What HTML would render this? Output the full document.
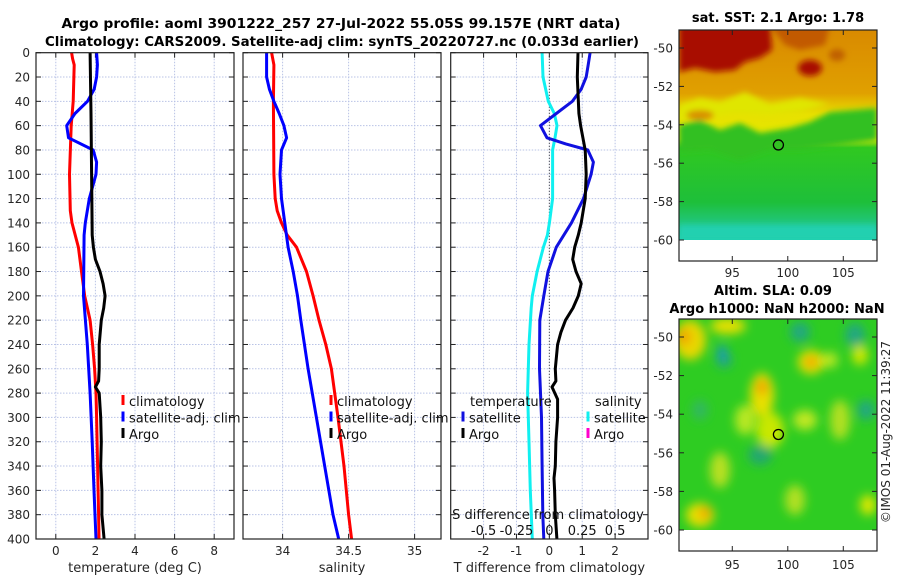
<!DOCTYPE html>
<html><head><meta charset="utf-8">
<style>
html,body{margin:0;padding:0;background:#fff;}
svg{display:block;font-family:"DejaVu Sans","Liberation Sans",sans-serif;}
</style></head>
<body>
<svg id="fig" width="900" height="580" viewBox="0 0 900 580" xmlns="http://www.w3.org/2000/svg">
<defs>
<filter id="blur3" x="-20%" y="-20%" width="140%" height="140%"><feGaussianBlur stdDeviation="3"/></filter>
<filter id="blur5" x="-30%" y="-30%" width="160%" height="160%"><feGaussianBlur stdDeviation="5"/></filter>
<clipPath id="clipTop"><rect x="679" y="30" width="198" height="210"/></clipPath>
<clipPath id="clipBot"><rect x="679" y="319" width="198" height="211"/></clipPath>
<linearGradient id="sstGrad" x1="0" y1="0" x2="0" y2="1">
<stop offset="0" stop-color="#d98a00"/><stop offset="0.3" stop-color="#e0a000"/><stop offset="0.4" stop-color="#e8e000"/>
<stop offset="0.52" stop-color="#e4ea00"/><stop offset="0.56" stop-color="#30c820"/><stop offset="0.82" stop-color="#1ebf3a"/>
<stop offset="0.95" stop-color="#22c890"/><stop offset="1" stop-color="#20d0b0"/>
</linearGradient>
</defs>
<g font-weight="bold" font-size="13" fill="#000" text-anchor="middle">
<text x="341" y="28" textLength="559" lengthAdjust="spacingAndGlyphs">Argo profile: aoml 3901222_257 27-Jul-2022 55.05S 99.157E (NRT data)</text>
<text x="342" y="46" textLength="594" lengthAdjust="spacingAndGlyphs">Climatology: CARS2009. Satellite-adj clim: synTS_20220727.nc (0.033d earlier)</text>
</g>
<g id="plots"></g>
<g id="maps"></g>
</svg>
<script>
// ---- Data ----
const depthTicks = [0,20,40,60,80,100,120,140,160,180,200,220,240,260,280,300,320,340,360,380,400];
const tempTicks = [0,2,4,6,8];
const salTicks = [34,34.5,35];
const salTickLabels = ["34","34.5","35"];
const diffTTicks = [-2,-1,0,1,2];
const diffSTickLabels = ["-0.5","-0.25","0","0.25","0.5"];
const diffSTicks = [-0.5,-0.25,0,0.25,0.5];

const climTDepth = [0,5,10,40,60,100,130,140,160,180,200,220,240,260,280,300,340,380,400];
const climT = [0.80,0.85,0.93,0.88,0.78,0.69,0.73,0.82,1.14,1.30,1.46,1.73,1.86,1.96,2.03,2.06,2.11,2.16,2.18];
const satTDepth = [0,10,20,30,40,50,60,70,80,90,100,120,140,150,200,240,280,320,360,400];
const satT = [2.06,2.10,2.06,1.94,1.60,0.97,0.55,0.64,1.89,2.06,2.03,1.69,1.49,1.43,1.40,1.59,1.73,1.84,1.93,2.03];
const argoTDepth = [0,50,100,150,160,170,180,190,200,210,220,240,260,270,275,280,300,320,340,360,380,400];
const argoT = [1.73,1.78,1.81,1.84,1.90,2.00,2.23,2.39,2.49,2.42,2.30,2.19,2.19,2.16,2.00,2.19,2.27,2.30,2.27,2.33,2.33,2.44];

const climSDepth = [0,10,40,100,120,130,140,150,160,180,200,220,240,260,280,300,340,380,400];
const climS = [33.917,33.934,33.930,33.934,33.944,33.959,33.992,34.035,34.105,34.181,34.231,34.276,34.327,34.370,34.395,34.420,34.465,34.500,34.523];
const satSDepth = [0,20,30,40,50,60,70,80,100,120,140,160,180,200,220,260,300,340,380,400];
const satS = [33.879,33.879,33.900,33.934,33.974,34.010,34.030,33.992,33.980,33.992,34.017,34.042,34.080,34.113,34.138,34.193,34.256,34.319,34.382,34.425];

const dTSatDepth = [0,10,20,30,40,50,60,70,75,80,90,100,120,140,160,180,200,220,260,300,340,380,400];
const dTSat = [1.24,1.18,1.12,0.97,0.70,0.21,-0.27,-0.07,0.50,1.17,1.34,1.27,1.04,0.67,0.21,-0.04,-0.17,-0.29,-0.30,-0.24,-0.22,-0.20,-0.17];
const dTArgoDepth = [0,20,50,60,80,100,120,140,150,160,170,180,190,200,210,220,230,240,260,270,275,285,300,320,340,350,360,380,400];
const dTArgo = [0.87,0.85,0.90,0.95,1.09,1.12,1.09,0.97,0.88,0.77,0.71,0.81,0.97,0.88,0.72,0.49,0.35,0.25,0.18,0.20,0.08,0.25,0.25,0.20,0.18,0.14,0.16,0.18,0.23];
const dSSatDepth = [0,20,40,50,60,70,80,100,120,140,150,160,180,200,210,240,280,320,360,400];
const dSSat = [-0.055,-0.048,-0.008,0.038,0.058,0.043,0.025,0.025,0.025,0,-0.015,-0.045,-0.093,-0.13,-0.138,-0.155,-0.165,-0.155,-0.145,-0.13];

const latTicks = [-50,-52,-54,-56,-58,-60];
const lonTicks = [95,100,105];
const argoLon = 99.157, argoLat = -55.05;

// ---- Helpers ----
const NS = "http://www.w3.org/2000/svg";
function mk(tag, attrs, parent){
  const e = document.createElementNS(NS, tag);
  for (const k in attrs) e.setAttribute(k, attrs[k]);
  parent.appendChild(e); return e;
}
const plots = document.getElementById('plots');
const Y0 = 52.7, Y1 = 539;
function yDepth(d){ return Y0 + (Y1 - Y0) * d / 400; }

function panel(name, x0, x1, xmin, xmax, xTicks, xLabels, xTitle, showY){
  const g = mk('g', {}, plots);
  
  
  const sx = v => x0 + (x1 - x0) * (v - xmin) / (xmax - xmin);
  const grid = mk('g', {stroke:'#b9c3e6', 'stroke-width':1, 'stroke-dasharray':'1.5,1.5'}, g);
  
  
  depthTicks.forEach(d => { if (d>0 && d<400) mk('line', {x1:x0, x2:x1, y1:yDepth(d), y2:yDepth(d)}, grid); });
  xTicks.forEach(v => mk('line', {x1:sx(v), x2:sx(v), y1:Y0, y2:Y1}, grid));
  const ax = mk('g', {stroke:'#222', 'stroke-width':1}, g);
  depthTicks.forEach(d => {
    mk('line', {x1:x0, x2:x0+5, y1:yDepth(d), y2:yDepth(d)}, ax);
    mk('line', {x1:x1, x2:x1-5, y1:yDepth(d), y2:yDepth(d)}, ax);
  });
  xTicks.forEach(v => {
    mk('line', {x1:sx(v), x2:sx(v), y1:Y1, y2:Y1-5}, ax);
    mk('line', {x1:sx(v), x2:sx(v), y1:Y0, y2:Y0+5}, ax);
  });
  const lab = mk('g', {'font-size':12, fill:'#262626', 'text-anchor':'middle'}, g);
  
  
  xTicks.forEach((v,i) => { const t = mk('text', {x:sx(v), y:555}, lab); t.textContent = xLabels[i]; });
  const tt = mk('text', {x:(x0+x1)/2, y:572, 'font-size':13, fill:'#262626', 'text-anchor':'middle'}, g);
  
  
  tt.textContent = xTitle;
  if (showY){
    const yl = mk('g', {'font-size':12, fill:'#262626', 'text-anchor':'end'}, g);
    
    
    depthTicks.forEach(d => { const t = mk('text', {x:30, y:yDepth(d)+4.5}, yl); t.textContent = d; });
  }
  return {g, sx};
}
function series(p, name, vals, depths, color, w, scale){
  const pts = vals.map((v,i) => p.sx(v*(scale||1)).toFixed(1) + ',' + yDepth(depths[i]).toFixed(1)).join(' ');
  const l = mk('polyline', {points:pts, fill:'none', stroke:color, 'stroke-width':w, 'stroke-linejoin':'round'}, p.g);
  
  
}
function frame(p, x0, x1){
  const r = mk('rect', {x:x0, y:Y0, width:x1-x0, height:Y1-Y0, fill:'none', stroke:'#222', 'stroke-width':1.2}, p.g);
  
  
}
function legend(g, name, x, y, items){
  const lg = mk('g', {'font-size':13, fill:'#111'}, g);
  
  
  items.forEach((it,i) => {
    const yy = y + i*16.5;
    if (it.c) mk('line', {x1:x, x2:x, y1:yy-11, y2:yy-1, stroke:it.c, 'stroke-width':3}, lg);
    const t = mk('text', {x:x + (it.c?6:0), y:yy}, lg);
    
    
    t.textContent = it.t;
  });
}

// Panel 1: temperature
const p1 = panel('temperature-panel', 36, 234, -1, 9, tempTicks, tempTicks.map(String), 'temperature (deg C)', true);
series(p1, 'temp-climatology-line', climT, climTDepth, '#ff0000', 3);
series(p1, 'temp-satellite-line', satT, satTDepth, '#0000ff', 3);
series(p1, 'temp-argo-line', argoT, argoTDepth, '#000000', 3);
frame(p1, 36, 234);
legend(p1.g, 'temperature-legend', 123, 406, [{t:'climatology',c:'#ff0000'},{t:'satellite-adj. clim',c:'#0000ff'},{t:'Argo',c:'#000'}]);

// Panel 2: salinity
const p2 = panel('salinity-panel', 243, 441, 33.7, 35.2, salTicks, salTickLabels, 'salinity', false);
series(p2, 'sal-climatology-line', climS, climSDepth, '#ff0000', 3);
series(p2, 'sal-satellite-line', satS, satSDepth, '#0000ff', 3);
frame(p2, 243, 441);
legend(p2.g, 'salinity-legend', 331, 406, [{t:'climatology',c:'#ff0000'},{t:'satellite-adj. clim',c:'#0000ff'},{t:'Argo',c:'#000'}]);

// Panel 3: differences
const p3 = panel('difference-panel', 450.7, 648, -3, 3, diffTTicks, diffTTicks.map(String), 'T difference from climatology', false);
const zl = mk('line', {x1:p3.sx(0), x2:p3.sx(0), y1:Y0, y2:Y1, stroke:'#333', 'stroke-width':1, 'stroke-dasharray':'1,2'}, p3.g);


series(p3, 'sal-diff-satellite-line', dSSat, dSSatDepth, '#10f0f0', 3, 4);
series(p3, 'temp-diff-satellite-line', dTSat, dTSatDepth, '#1010e0', 3);
series(p3, 'temp-diff-argo-line', dTArgo, dTArgoDepth, '#000000', 3);
frame(p3, 450.7, 648);
legend(p3.g, 'diff-temperature-legend', 463, 406, [{t:'temperature'},{t:'satellite',c:'#1010e0'},{t:'Argo',c:'#000'}]);
p3.g.lastChild.firstChild.setAttribute('x', 470);
legend(p3.g, 'diff-salinity-legend', 588, 406, [{t:'salinity'},{t:'satellite',c:'#10f0f0'},{t:'Argo',c:'#ff00cc'}]);
p3.g.lastChild.firstChild.setAttribute('x', 595);
const sl = mk('g', {'font-size':13, fill:'#111', 'text-anchor':'middle'}, p3.g);


const st = mk('text', {x:548, y:519}, sl); st.textContent = 'S difference from climatology';
diffSTicks.forEach((v,i) => { const t = mk('text', {x:p3.sx(v*4), y:535}, sl); t.textContent = diffSTickLabels[i]; });

// ---- Maps ----
const maps = document.getElementById('maps');
function mapAxes(name, top, bot, latY, title1, title2){
  const g = mk('g', {}, maps);
  
  
  const lonX = lon => 679 + (lon - 90.2) * 11.1;
  return {g, lonX, latY};
}
function decorate(m, top, bot, labY){
  const ax = mk('g', {stroke:'#222', 'stroke-width':1}, m.g);
  latTicks.forEach(l => { mk('line', {x1:679, x2:684, y1:m.latY(l), y2:m.latY(l)}, ax); mk('line', {x1:877, x2:872, y1:m.latY(l), y2:m.latY(l)}, ax); });
  lonTicks.forEach(l => { mk('line', {x1:m.lonX(l), x2:m.lonX(l), y1:bot, y2:bot-5}, ax); mk('line', {x1:m.lonX(l), x2:m.lonX(l), y1:top, y2:top+5}, ax); });
  mk('rect', {x:679, y:top, width:198, height:bot-top, fill:'none', stroke:'#222', 'stroke-width':1.2}, m.g);
  const lab = mk('g', {'font-size':12, fill:'#262626'}, m.g);
  latTicks.forEach(l => { const t = mk('text', {x:673, y:m.latY(l)+4.5, 'text-anchor':'end'}, lab); t.textContent = l; });
  lonTicks.forEach(l => { const t = mk('text', {x:m.lonX(l), y:labY, 'text-anchor':'middle'}, lab); t.textContent = l; });
  const c = mk('circle', {cx:m.lonX(argoLon), cy:m.latY(argoLat), r:5, fill:'none', stroke:'#000', 'stroke-width':1.3}, m.g);
  
  
}
// SST map
const m1 = mapAxes('sst-map', 30, 261, lat => 48 + (-50 - lat) * 19.2);
let t1 = mk('text', {x:778, y:22, 'font-size':13, 'font-weight':'bold', 'text-anchor':'middle'}, m1.g); t1.textContent = 'sat. SST: 2.1 Argo: 1.78';

const sst = mk('g', {'clip-path':'url(#clipTop)'}, m1.g);
mk('rect', {x:679, y:30, width:198, height:210, fill:'url(#sstGrad)'}, sst);
const sb = mk('g', {filter:'url(#blur3)'}, sst);
mk('path', {d:'M679,25 L770,25 L772,50 L760,58 L745,62 L735,70 L715,72 L695,68 L679,72 Z', fill:'#a80a00'}, sb);
mk('path', {d:'M770,25 L830,25 L825,45 L800,50 L785,45 Z', fill:'#c25a00'}, sb);
mk('ellipse', {cx:810, cy:68, rx:12, ry:8, fill:'#a81000'}, sb);
mk('ellipse', {cx:837, cy:55, rx:8, ry:6, fill:'#c06000'}, sb);
mk('path', {d:'M679,125 L700,120 L720,130 L740,123 L760,133 L790,128 L810,122 L830,112 L877,108 L877,140 L840,145 L800,150 L770,150 L740,160 L710,150 L679,152 Z', fill:'#30c020'}, sb);
mk('path', {d:'M679,105 L700,98 L720,102 L745,92 L770,104 L800,98 L830,104 L800,112 L770,115 L735,114 L700,118 L679,120 Z', fill:'#e0e600'}, sb);
mk('ellipse', {cx:700, cy:115, rx:14, ry:5, fill:'#d89000'}, sb);
mk('rect', {x:679, y:225, width:198, height:15, fill:'#20d0b0'}, sb);
mk('rect', {x:679, y:240, width:198, height:21, fill:'#fff'}, m1.g);
decorate(m1, 30, 261, 277);
// SLA map
const m2 = mapAxes('sla-map', 319, 551, lat => 337 + (-50 - lat) * 19.3);
let t2 = mk('text', {x:773, y:295, 'font-size':13, 'font-weight':'bold', 'text-anchor':'middle'}, m2.g); t2.textContent = 'Altim. SLA: 0.09';
let t3 = mk('text', {x:777, y:313, 'font-size':13, 'font-weight':'bold', 'text-anchor':'middle'}, m2.g); t3.textContent = 'Argo h1000: NaN h2000: NaN';
const sla = mk('g', {'clip-path':'url(#clipBot)'}, m2.g);
mk('rect', {x:679, y:319, width:198, height:211, fill:'#2ecc22'}, sla);
const bb = mk('g', {filter:'url(#blur5)'}, sla);
[[690,340,16,20,'#e8d800'],[684,337,7,8,'#f0a000'],[728,326,18,8,'#e8e000'],[724,360,8,8,'#20a880'],[722,352,4,7,'#1890d0'],
 [811,362,13,12,'#e8e000'],[811,362,6,5,'#f09000'],[762,395,12,22,'#e8e000'],[762,387,6,8,'#f0a000'],[770,430,14,18,'#c8e800'],
 [745,420,10,15,'#b8e820'],[800,332,10,10,'#20a880'],[855,335,10,12,'#20a880'],[866,410,9,10,'#20a880'],[760,455,12,10,'#22a870'],
 [700,515,14,12,'#e8e000'],[705,513,6,6,'#f0a000'],[868,505,8,10,'#e0e800'],[830,360,8,8,'#b8e820'],[840,420,10,20,'#b0e020'],
 [720,470,10,18,'#b8e020'],[795,500,10,15,'#b0e020'],[860,355,8,10,'#d0e800'],[700,410,8,10,'#30b860'],[805,420,12,10,'#c0e820']
].forEach(b => mk('ellipse', {cx:b[0], cy:b[1], rx:b[2], ry:b[3], fill:b[4]}, bb));
mk('rect', {x:679, y:530, width:198, height:21, fill:'#fff'}, m2.g);
decorate(m2, 319, 551, 569);
const cp = mk('text', {x:0, y:0, 'font-size':12, fill:'#262626', 'text-anchor':'middle', transform:'translate(890,432) rotate(-90)'}, maps);


cp.textContent = '©IMOS 01-Aug-2022 11:39:27';
</script>
</body></html>
